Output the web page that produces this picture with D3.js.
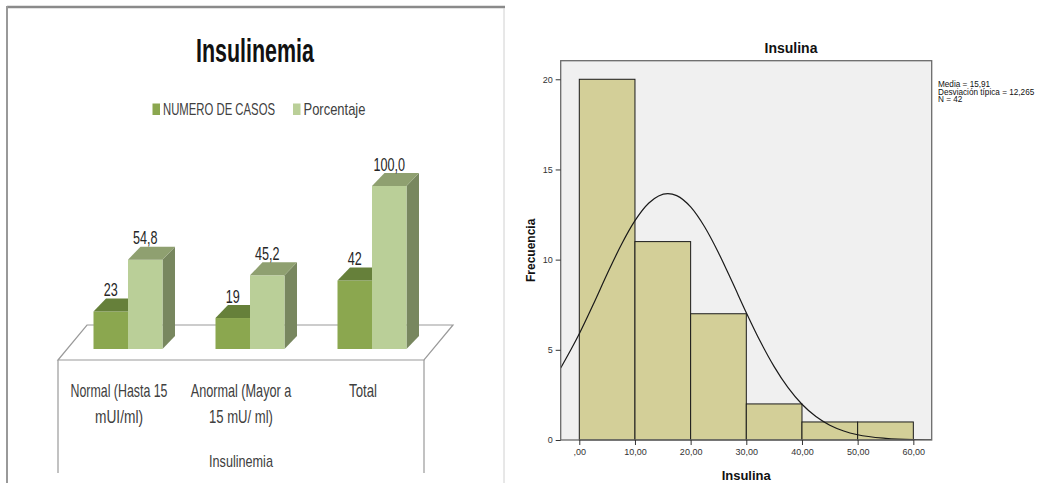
<!DOCTYPE html>
<html>
<head>
<meta charset="utf-8">
<script src="https://cdn.jsdelivr.net/npm/d3@7"></script>
<style>
    body { margin: 0; background: #fff; }
    svg { display: block; }
</style>
</head>
<body>
<div id="draw_here"></div>
<script type="text/javascript">
    // ---- data: left chart (Insulinemia) ----
    categories = ["Normal (Hasta 15 mUI/ml)", "Anormal (Mayor a 15 mU/ ml)", "Total"]
    category_lines = [["Normal (Hasta 15", "mUI/ml)"], ["Anormal (Mayor a", "15 mU/ ml)"], ["Total"]]
    series = ["NUMERO DE CASOS", "Porcentaje"]
    casos = [23, 19, 42]
    porcentaje = [54.8, 45.2, 100.0]

    // ---- data: right chart (Insulina histogram) ----
    bin_edges = [0, 10, 20, 30, 40, 50, 60]
    bin_counts = [20, 11, 7, 2, 1, 1]
    x_ticks = [0, 10, 20, 30, 40, 50, 60]
    x_tick_labels = [",00", "10,00", "20,00", "30,00", "40,00", "50,00", "60,00"]
    y_ticks = [0, 5, 10, 15, 20]
    // normal curve
    curve_x = [-3.34, 0, 2.5, 5, 7.5, 10, 12.5, 15.9, 17.5, 20, 22.5, 25, 27.5, 30, 32.5, 35, 37.5, 40, 42.5, 45, 47.5, 50, 55, 60, 63.3]
    curve_y = [3.99, 5.89, 7.51, 9.20, 10.80, 12.16, 13.14, 13.66, 13.55, 12.92, 11.82, 10.38, 8.74, 7.06, 5.47, 4.07, 2.90, 1.98, 1.30, 0.82, 0.50, 0.29, 0.09, 0.02, 0.01]
    stats_lines = ["Media = 15,91", "Desviación típica = 12,265", "N = 42"]

    // ---- styles ----
    canvas = ({width: 1059, height: 486})
    dark_front = "#8ba74f"
    dark_top = "#66803a"
    dark_side = "#6a823c"
    light_front = "#bacf98"
    light_top = "#8fa070"
    light_side = "#78875f"
    hist_fill = "#d3cf98"
    narrow = "'Liberation Sans Narrow', 'Liberation Sans', Arial, sans-serif"
    arial = "'Liberation Sans', Arial, sans-serif"

    locale = d3.formatLocale({decimal: ",", thousands: ".", grouping: [3], currency: ["", ""]})
    fmt_pct = locale.format(".1f")
    fmt_int = locale.format("d")

    var svg = d3.select("div#draw_here").append("svg")
        .attr("width", canvas.width)
        .attr("height", canvas.height)
        .attr("viewBox", [0, 0, canvas.width, canvas.height])

    // squeeze a text horizontally to a given width (the original font is a narrow Calibri)
    function fit(sel, w) {
        sel.each(function() {
            var t = d3.select(this)
            var k = w / this.getComputedTextLength()
            var x = +t.attr("x"), y = +t.attr("y")
            t.attr("x", 0).attr("y", 0)
                .attr("transform", `translate(${x},${y}) scale(${k},1)`)
        })
    }
    function squeeze(sel, k) {
        sel.each(function() {
            d3.select(this).call(fit, this.getComputedTextLength() * k)
        })
    }

    // ======================= LEFT CHART =======================
    var left = svg.append("g")

    left.append("line")
        .attr("x1", 7).attr("x2", 505).attr("y1", 7).attr("y2", 7)
        .attr("stroke", "#8a8a8a").attr("stroke-width", 2.5)
    left.append("line")
        .attr("x1", 7).attr("x2", 7).attr("y1", 6).attr("y2", 483)
        .attr("stroke", "#999").attr("stroke-width", 2)

    left.append("text")
        .attr("x", 255).attr("y", 61.5)
        .attr("text-anchor", "middle")
        .attr("font-family", narrow).attr("font-weight", "bold").attr("font-size", 34)
        .attr("fill", "#111")
        .text("Insulinemia")
        .call(fit, 118)

    // legend
    legend_x = [152.5, 293]
    legend_w = [112, 62]
    var leg = left.selectAll("g.leg").data(series).join("g").attr("class", "leg")
        .attr("transform", (d, i) => `translate(${legend_x[i]},0)`)
    leg.append("rect")
        .attr("x", 0).attr("y", 103.5).attr("width", 7.5).attr("height", 11.5)
        .attr("fill", (d, i) => i == 0 ? dark_front : light_front)
    leg.append("text")
        .attr("x", 10.5).attr("y", 115)
        .attr("font-family", narrow).attr("font-size", 16).attr("fill", "#404040")
        .text(d => d)
        .each(function(d, i) { d3.select(this).call(fit, legend_w[i]) })

    // scales
    x_band = d3.scaleBand().domain(categories).range([58, 424])
    x_sub = d3.scaleBand().domain(series).range([0, 69])
    y_left = d3.scaleLinear().domain([0, 100]).range([349, 186])

    plane = {x: 9, y: -11}          // bar plane offset from floor front edge
    floor_depth = {x: 29, y: -35}
    bar_depth = {x: 12.5, y: -13}

    floor_y = y_left(0) - plane.y
    fx0 = x_band.range()[0], fx1 = x_band.range()[1]

    // floor and the white front box
    left.append("path")
        .attr("fill", "#fff").attr("stroke", "#9a9a9a").attr("stroke-width", 1.2)
        .attr("d", d3.line()([[fx0, floor_y], [fx1, floor_y],
            [fx1 + floor_depth.x, floor_y + floor_depth.y], [fx0 + floor_depth.x, floor_y + floor_depth.y]]) + "Z")
    left.append("path")
        .attr("fill", "none").attr("stroke", "#9a9a9a").attr("stroke-width", 1.2)
        .attr("d", `M${fx0},${floor_y}V473M${fx1},${floor_y}V473`)

    // 3d bars
    values = [casos, porcentaje]
    fronts = [dark_front, light_front]
    tops = [dark_top, light_top]
    sides = [dark_side, light_side]
    label_fmt = [fmt_int, fmt_pct]

    categories.forEach(function(c, i) {
        series.forEach(function(s, j) {
            v = values[j][i]
            x0 = x_band(c) + (x_band.bandwidth() - 69) / 2 + plane.x + x_sub(s)
            w = x_sub.bandwidth()
            yt = y_left(v), yb = y_left(0)
            dx = bar_depth.x, dy = bar_depth.y
            g = left.append("g")
            g.append("path").attr("fill", sides[j])
                .attr("d", d3.line()([[x0 + w, yt], [x0 + w + dx, yt + dy], [x0 + w + dx, yb + dy], [x0 + w, yb]]) + "Z")
            g.append("rect").attr("fill", fronts[j])
                .attr("x", x0).attr("y", yt).attr("width", w).attr("height", yb - yt)
            g.append("path").attr("fill", tops[j])
                .attr("d", d3.line()([[x0, yt], [x0 + w, yt], [x0 + w + dx, yt + dy], [x0 + dx, yt + dy]]) + "Z")
            g.append("text")
                .attr("x", x0 + w / 2).attr("y", yt + dy - 2.5)
                .attr("text-anchor", "middle")
                .attr("font-family", narrow).attr("font-size", 18).attr("fill", "#262626")
                .text(label_fmt[j](v))
                .call(squeeze, 0.7)
        })
    })

    // category labels
    cat_w = [[97, 48], [100.7, 64], [28]]
    categories.forEach(function(c, i) {
        category_lines[i].forEach(function(t, k) {
            left.append("text")
                .attr("x", x_band(c) + x_band.bandwidth() / 2).attr("y", 397 + k * 26)
                .attr("text-anchor", "middle")
                .attr("font-family", narrow).attr("font-size", 18).attr("fill", "#404040")
                .text(t)
                .call(fit, cat_w[i][k])
        })
    })
    left.append("text")
        .attr("x", (fx0 + fx1) / 2).attr("y", 467)
        .attr("text-anchor", "middle")
        .attr("font-family", narrow).attr("font-size", 16).attr("fill", "#404040")
        .text("Insulinemia")
        .call(fit, 64)

    // ======================= RIGHT CHART =======================
    var right = svg.append("g")

    right.append("line")
        .attr("x1", 504).attr("x2", 504).attr("y1", 8).attr("y2", 483)
        .attr("stroke", "#d0d0d0").attr("stroke-width", 1)

    x_h = d3.scaleLinear().domain([-3.34, 63.3]).range([560.7, 931.7])
    y_h = d3.scaleLinear().domain([0, 21.03]).range([440, 60.7])

    right.append("rect")
        .attr("x", x_h.range()[0]).attr("y", y_h.range()[1])
        .attr("width", x_h.range()[1] - x_h.range()[0]).attr("height", y_h.range()[0] - y_h.range()[1])
        .attr("fill", "#f0f0f0")

    bins = bin_counts.map((n, i) => ({x0: bin_edges[i], x1: bin_edges[i + 1], n: n}))
    right.selectAll("rect.bin").data(bins).join("rect").attr("class", "bin")
        .attr("x", d => x_h(d.x0)).attr("y", d => y_h(d.n))
        .attr("width", d => x_h(d.x1) - x_h(d.x0)).attr("height", d => y_h(0) - y_h(d.n))
        .attr("fill", hist_fill).attr("stroke", "#1a1a1a").attr("stroke-width", 1)

    right.append("clipPath").attr("id", "plot_clip")
        .append("rect")
        .attr("x", x_h.range()[0]).attr("y", y_h.range()[1])
        .attr("width", x_h.range()[1] - x_h.range()[0]).attr("height", y_h.range()[0] - y_h.range()[1])

    curve_line = d3.line()
        .x(d => x_h(d[0]))
        .y(d => y_h(d[1]))
        .curve(d3.curveMonotoneX)
    right.append("path")
        .attr("clip-path", "url(#plot_clip)")
        .attr("fill", "none").attr("stroke", "#1a1a1a").attr("stroke-width", 1.2)
        .attr("d", curve_line(d3.zip(curve_x, curve_y)))

    right.append("rect")
        .attr("x", x_h.range()[0]).attr("y", y_h.range()[1])
        .attr("width", x_h.range()[1] - x_h.range()[0]).attr("height", y_h.range()[0] - y_h.range()[1])
        .attr("fill", "none").attr("stroke", "#6a6a6a").attr("stroke-width", 1.3)

    xAxis_h = g => g
        .attr("transform", `translate(0,${y_h.range()[0]})`)
        .call(d3.axisBottom(x_h).tickValues(x_ticks).tickSize(5).tickPadding(4)
            .tickFormat((d, i) => x_tick_labels[i]))
        .call(g => g.select(".domain").remove())

    yAxis_h = g => g
        .attr("transform", `translate(${x_h.range()[0]},0)`)
        .call(d3.axisLeft(y_h).tickValues(y_ticks).tickSize(5).tickPadding(3))
        .call(g => g.select(".domain").remove())

    right.append("g").call(xAxis_h)
    right.append("g").call(yAxis_h)
    right.selectAll(".tick line").attr("stroke", "#333")
    right.selectAll(".tick text").attr("font-family", arial).attr("font-size", 9).attr("fill", "#333")

    right.append("text")
        .attr("x", 791).attr("y", 53)
        .attr("text-anchor", "middle")
        .attr("font-family", arial).attr("font-weight", "bold").attr("font-size", 14).attr("fill", "#111")
        .text("Insulina")
    right.append("text")
        .attr("x", (x_h.range()[0] + x_h.range()[1]) / 2).attr("y", 479.5)
        .attr("text-anchor", "middle")
        .attr("font-family", arial).attr("font-weight", "bold").attr("font-size", 13).attr("fill", "#111")
        .text("Insulina")
    right.append("text")
        .attr("transform", `translate(534.5,${(y_h.range()[0] + y_h.range()[1]) / 2}) rotate(-90)`)
        .attr("text-anchor", "middle")
        .attr("font-family", arial).attr("font-weight", "bold").attr("font-size", 12).attr("fill", "#111")
        .text("Frecuencia")

    right.append("g").selectAll("text").data(stats_lines).join("text")
        .attr("x", 938).attr("y", (d, i) => 86.7 + i * 7.8)
        .attr("font-family", arial).attr("font-size", 8.2).attr("fill", "#111")
        .text(d => d)
</script>
</body>
</html>
